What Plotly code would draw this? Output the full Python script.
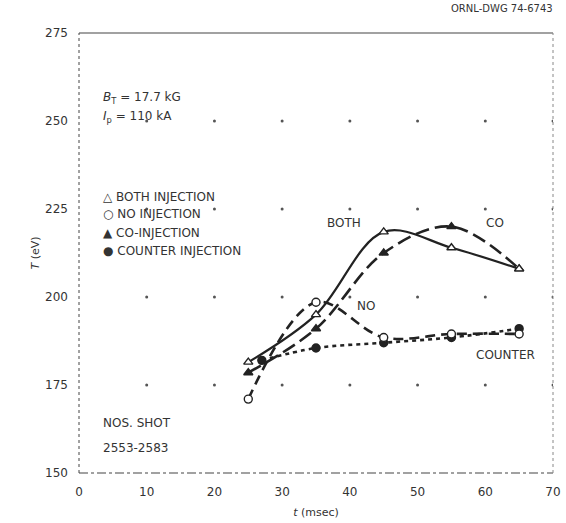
import plotly.graph_objects as go

# Data
t_both = [25, 35, 45, 55, 65]
T_both = [181.5, 195, 218.5, 214, 208]
t_no = [25, 35, 45, 55, 65]
T_no = [171, 198.5, 188.5, 189.5, 189.5]
t_co = [25, 35, 45, 55, 65]
T_co = [178.5, 191, 212.5, 220, 208]
t_counter = [27, 35, 45, 55, 65]
T_counter = [182, 185.5, 187, 188.5, 191]

x_ticks = [0, 10, 20, 30, 40, 50, 60, 70]
y_ticks = [150, 175, 200, 225, 250, 275]

ink = "#222222"
font = "DejaVu Sans"

fig = go.Figure()

# grid dots at tick intersections
gx = [x for x in x_ticks[1:] for y in y_ticks[1:-1]]
gy = [y for x in x_ticks[1:] for y in y_ticks[1:-1]]
fig.add_trace(go.Scatter(x=gx, y=gy, mode="markers",
                         marker=dict(size=3, color="#555555"),
                         hoverinfo="skip", showlegend=False))

def series(x, y, dash, symbol, filled, width=2.6):
    fig.add_trace(go.Scatter(
        x=x, y=y, mode="lines+markers",
        line=dict(color=ink, width=width, dash=dash, shape="spline", smoothing=1.0),
        marker=dict(symbol=symbol, size=8, color=ink if filled else "white",
                    line=dict(color=ink, width=1.4)),
        hoverinfo="skip", showlegend=False))

series(t_counter, T_counter, "4px,4px", "circle", True)
series(t_no, T_no, "10px,6px", "circle", False)
series(t_co, T_co, "14px,6px", "triangle-up", True)
series(t_both, T_both, "solid", "triangle-up", False, width=2.2)

ann = []
def text(x, y, s, size=12, xanchor="left", xref="x", yref="y"):
    ann.append(dict(x=x, y=y, xref=xref, yref=yref, text=s, showarrow=False,
                    xanchor=xanchor, yanchor="middle",
                    font=dict(family=font, size=size, color="#333333")))

text(1.005, 1.055, "ORNL-DWG 74-6743", size=10, xanchor="right", xref="paper", yref="paper")
text(3.3, 256.5, "<i>B</i><sub>T</sub> = 17.7 kG")
text(3.3, 251, "<i>I</i><sub>p</sub> = 110 kA")
text(3.3, 228.5, "△ BOTH INJECTION")
text(3.3, 223.5, "○ NO INJECTION")
text(3.3, 218.3, "▲ CO-INJECTION")
text(3.3, 213.2, "● COUNTER INJECTION")
text(3.3, 164.2, "NOS. SHOT")
text(3.3, 157.2, "2553-2583")
text(36.3, 221, "BOTH")
text(59.8, 221, "CO")
text(40.8, 197.5, "NO")
text(58.3, 183.5, "COUNTER")
fig.update_layout(annotations=ann)

# frame
frame = "#444444"
fig.add_shape(type="line", xref="paper", yref="paper", x0=0, x1=1, y0=1, y1=1,
              line=dict(color=frame, width=1.2))
fig.add_shape(type="line", xref="paper", yref="paper", x0=0, x1=1, y0=0, y1=0,
              line=dict(color=frame, width=1.2, dash="dashdot"))
fig.add_shape(type="line", xref="paper", yref="paper", x0=0, x1=0, y0=0, y1=1,
              line=dict(color=frame, width=1, dash="dot"))
fig.add_shape(type="line", xref="paper", yref="paper", x0=1, x1=1, y0=0, y1=1,
              line=dict(color="#888888", width=1, dash="dot"))

fig.update_layout(
    width=566, height=523,
    margin=dict(l=79, r=13, t=33, b=50),
    paper_bgcolor="white", plot_bgcolor="white",
    font=dict(family=font, size=12, color="#333333"),
    xaxis=dict(range=[0, 70], tickvals=x_ticks, showgrid=False, zeroline=False,
               showline=False, ticks="", ticklabelstandoff=10, automargin=False,
               title=dict(text="<i>t</i> (msec)", standoff=10, font=dict(size=11))),
    yaxis=dict(range=[150, 275], tickvals=y_ticks, showgrid=False, zeroline=False,
               showline=False, ticks="", ticklabelstandoff=10, automargin=False,
               title=dict(text="<i>T</i> (eV)", standoff=3, font=dict(size=11))),
)

fig.write_html("out.html")
